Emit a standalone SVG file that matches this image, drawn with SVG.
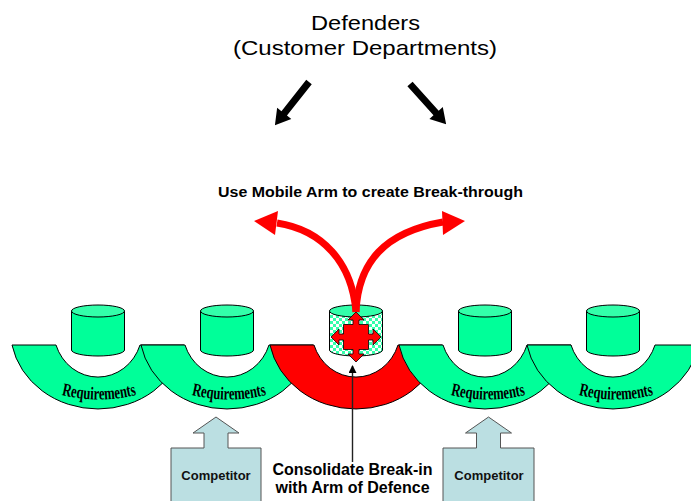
<svg xmlns="http://www.w3.org/2000/svg" width="691" height="501" viewBox="0 0 691 501">
<style>
.arc{fill:#00ff99;stroke:#000;stroke-width:1}
.arcRed{fill:#ff0000;stroke:#000;stroke-width:1}
.cylBody{fill:#00ff99;stroke:#000;stroke-width:1}
.cylTop{fill:#33ffaa;stroke:#000;stroke-width:1}
.req{font-family:"Liberation Serif","Times New Roman",serif;font-weight:bold;font-size:18px;fill:#000}
.comp{fill:#bbdfe2;stroke:#555;stroke-width:1}
.compTxt{font-family:"Liberation Sans",Arial,sans-serif;font-weight:bold;font-size:13px;fill:#111;text-anchor:middle}
.title{font-family:"Liberation Sans",Arial,sans-serif;font-size:21px;fill:#000;text-anchor:middle}
.bold{font-family:"Liberation Sans",Arial,sans-serif;font-weight:bold;fill:#000;text-anchor:middle}
.redShaft{fill:none;stroke:#ff0000;stroke-width:7}
</style>
<defs>
<pattern id="checks" width="6" height="6" patternUnits="userSpaceOnUse">
<rect width="6" height="6" fill="#33ffaa"/>
<rect width="3" height="3" fill="#ffffff"/>
<rect x="3" y="3" width="3" height="3" fill="#ffffff"/>
</pattern>
<path id="tp1" d="M58,394 Q99,405 140,394"/>
<path id="tp2" d="M188,394 Q229,405 270,394"/>
<path id="tp4" d="M447,394 Q488,405 529,394"/>
<path id="tp5" d="M575,394 Q616,405 657,394"/>
<marker id="upHead" markerWidth="8" markerHeight="8" refX="7" refY="4" orient="auto" markerUnits="userSpaceOnUse">
<path d="M0,0 L8,4 L0,8 Z" fill="#000"/>
</marker>
</defs>

<g id="title">
<text class="title" x="365.5" y="30" textLength="109" lengthAdjust="spacingAndGlyphs">Defenders</text>
<text class="title" x="365" y="55" textLength="264" lengthAdjust="spacingAndGlyphs">(Customer Departments)</text>
</g>

<g id="breakthrough-label">
<text class="bold" x="370.5" y="197" font-size="14" textLength="305" lengthAdjust="spacingAndGlyphs">Use Mobile Arm to create Break-through</text>
</g>

<g id="req1">
<path class="arc" d="M12,345 A87.6,79 0 0 0 184,345 L140,345 A44.3,47 0 0 1 56,345 Z"/>
<path class="cylBody" d="M71.5,311 L71.5,350 A26.5,6 0 0 0 124.5,350 L124.5,311 Z"/>
<ellipse class="cylTop" cx="98" cy="311" rx="26.5" ry="6"/>
<text class="req"><textPath href="#tp1" startOffset="50%" text-anchor="middle" textLength="76" lengthAdjust="spacingAndGlyphs">Requirements</textPath></text>
</g>

<g id="req2">
<path class="arc" d="M141,345 A87.6,79 0 0 0 313,345 L269,345 A44.3,47 0 0 1 185,345 Z"/>
<path class="cylBody" d="M200.5,311 L200.5,350 A26.5,6 0 0 0 253.5,350 L253.5,311 Z"/>
<ellipse class="cylTop" cx="227" cy="311" rx="26.5" ry="6"/>
<text class="req"><textPath href="#tp2" startOffset="50%" text-anchor="middle" textLength="76" lengthAdjust="spacingAndGlyphs">Requirements</textPath></text>
</g>

<g id="breakin">
<path class="arcRed" d="M270,345 A87.6,79 0 0 0 442,345 L398,345 A44.3,47 0 0 1 314,345 Z"/>
<path d="M329.5,311 L329.5,350 A26.5,6 0 0 0 382.5,350 L382.5,311 Z" fill="url(#checks)" stroke="#000" stroke-width="1"/>
<ellipse class="cylTop" cx="356" cy="311" rx="26.5" ry="6"/>
</g>

<g id="req4">
<path class="arc" d="M399,345 A87.6,79 0 0 0 571,345 L527,345 A44.3,47 0 0 1 443,345 Z"/>
<path class="cylBody" d="M458.5,311 L458.5,350 A26.5,6 0 0 0 511.5,350 L511.5,311 Z"/>
<ellipse class="cylTop" cx="485" cy="311" rx="26.5" ry="6"/>
<text class="req"><textPath href="#tp4" startOffset="50%" text-anchor="middle" textLength="76" lengthAdjust="spacingAndGlyphs">Requirements</textPath></text>
</g>

<g id="req5">
<path class="arc" d="M527,345 A87.6,79 0 0 0 699,345 L655,345 A44.3,47 0 0 1 571,345 Z"/>
<path class="cylBody" d="M586.5,311 L586.5,350 A26.5,6 0 0 0 639.5,350 L639.5,311 Z"/>
<ellipse class="cylTop" cx="613" cy="311" rx="26.5" ry="6"/>
<text class="req"><textPath href="#tp5" startOffset="50%" text-anchor="middle" textLength="76" lengthAdjust="spacingAndGlyphs">Requirements</textPath></text>
</g>

<g id="competitor1">
<path class="comp" d="M171,448 L204,448 L204,433 L193,433 L216,417 L239,433 L228,433 L228,448 L261,448 L261,505 L171,505 Z"/>
<text class="compTxt" x="216" y="480">Competitor</text>
</g>

<g id="competitor2">
<path class="comp" d="M443,448 L476.5,448 L476.5,433 L465.5,433 L488.5,417 L511.5,433 L500.5,433 L500.5,448 L534,448 L534,505 L443,505 Z"/>
<text class="compTxt" x="489" y="480">Competitor</text>
</g>

<g id="consolidate-label">
<text class="bold" x="352.5" y="475" font-size="16">Consolidate Break-in</text>
<text class="bold" x="352.5" y="493" font-size="16">with Arm of Defence</text>
</g>

<g id="connectors">
<polygon transform="translate(309,82) rotate(128.3)" points="0,-3.5 40,-3.5 40,-9 55,0 40,9 40,3.5 0,3.5" fill="#000"/>
<polygon transform="translate(410,84) rotate(48)" points="0,-3.5 39,-3.5 39,-9 54,0 39,9 39,3.5 0,3.5" fill="#000"/>
<path class="redShaft" d="M356,312 C352,262 322,230 277,223"/>
<polygon points="254,221 278,211 275,235" fill="#ff0000"/>
<path class="redShaft" d="M356,312 C358,262 385,232 443,222"/>
<polygon points="465,221 442,211 443,235" fill="#ff0000"/>
<polygon fill="#ff0000" stroke="#000" stroke-width="0.8" points="356,312 364,320 359,320 359,324.5 368.5,324.5 368.5,334 373,334 373,329 381,337 373,345 373,340 368.5,340 368.5,349.5 359,349.5 359,354 364,354 356,362 348,354 353,354 353,349.5 343.5,349.5 343.5,340 339,340 339,345 331,337 339,329 339,334 343.5,334 343.5,324.5 353,324.5 353,320 348,320"/>
<line x1="352.5" y1="462" x2="352.5" y2="366" stroke="#222" stroke-width="1.4" marker-end="url(#upHead)"/>
</g>
</svg>
